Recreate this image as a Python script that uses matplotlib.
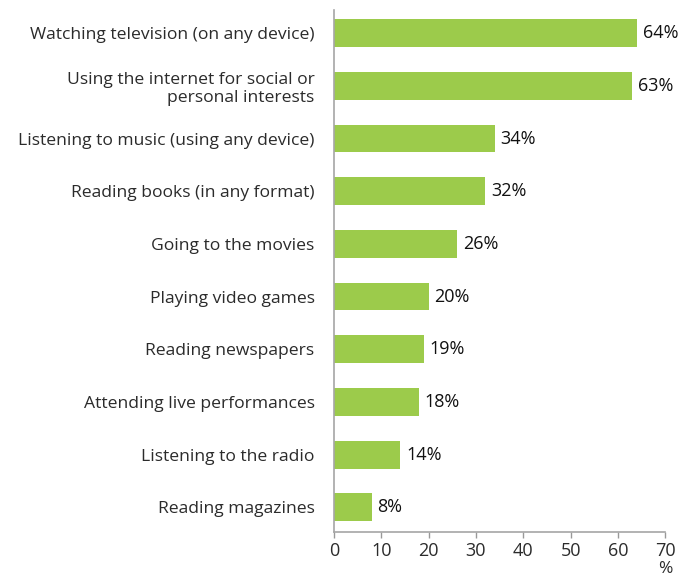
import matplotlib
matplotlib.use("Agg")
import matplotlib.pyplot as plt
import numpy as np

activities = [
    "Watching television (on any device)",
    "Using the internet for social or\npersonal interests",
    "Listening to music (using any device)",
    "Reading books (in any format)",
    "Going to the movies",
    "Playing video games",
    "Reading newspapers",
    "Attending live performances",
    "Listening to the radio",
    "Reading magazines",
]
shares = [64, 63, 34, 32, 26, 20, 19, 18, 14, 8]
xticks = [0, 10, 20, 30, 40, 50, 60, 70]

plt.rcParams['font.family'] = ['Open Sans', 'DejaVu Sans']

fig = plt.figure(figsize=(6.78, 5.8), dpi=100)
ax = fig.add_axes([0.4926, 0.0828, 0.4886, 0.9])

y = np.arange(len(activities))
ax.barh(y, shares, height=0.53, color='#9ccb4b', edgecolor='none')

# value labels just past the end of each bar
for yi, v in zip(y, shares):
    ax.text(v + 1.2, yi, f"{v}%", va='center', ha='left', fontsize=13,
            color='#111111')

ax.set_yticks(y)
ax.set_yticklabels(activities, fontsize=12.6, color='#2b2b2b', linespacing=1.15)
ax.set_ylim(len(activities) - 0.53, -0.44)
ax.set_xlim(0, 70)
ax.set_xticks(xticks)
ax.set_xticklabels([str(t) for t in xticks], fontsize=13, color='#2b2b2b')

ax.tick_params(axis='y', length=0, pad=14)
ax.tick_params(axis='x', length=4, color='#999999', width=1, pad=3)
for side in ['top', 'right']:
    ax.spines[side].set_visible(False)
ax.spines['left'].set_color('#a6a6a6')
ax.spines['bottom'].set_color('#a6a6a6')
ax.spines['left'].set_linewidth(1.2)
ax.spines['bottom'].set_linewidth(1.2)

ax.text(70, -0.071, '%', transform=ax.get_xaxis_transform(), ha='center',
        va='center', fontsize=12.5, color='#2b2b2b')

fig.savefig("out.png", dpi=100)
